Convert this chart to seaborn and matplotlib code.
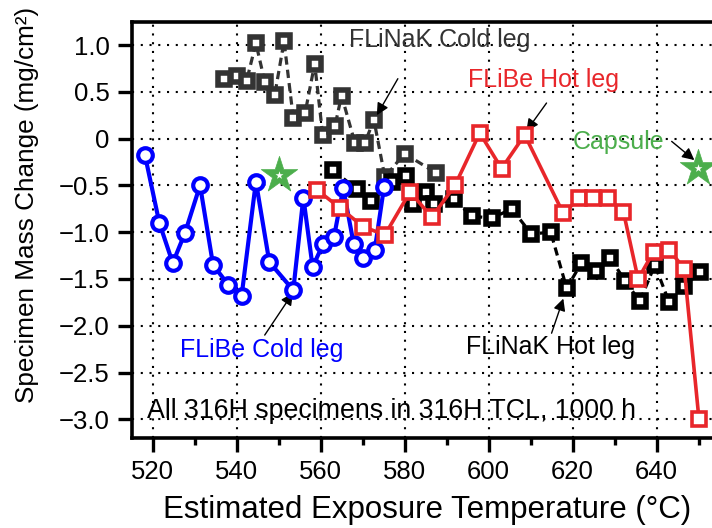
import numpy as np
import pandas as pd
import matplotlib
matplotlib.use("Agg")
import matplotlib.pyplot as plt
from matplotlib.ticker import MultipleLocator, FixedLocator, FixedFormatter
import seaborn as sns

# ---------------- data ----------------
flibe_cold_T = [518.2, 521.6, 524.8, 527.7, 531.3, 534.4, 538.0, 541.2, 544.6, 547.8,
                553.5, 555.9, 558.1, 560.6, 563.2, 565.4, 567.9, 570.1, 572.9, 575.1]
flibe_cold_M = [-0.18, -0.90, -1.33, -1.01, -0.50, -1.35, -1.56, -1.68, -0.46, -1.32,
                -1.62, -0.63, -1.37, -1.13, -1.05, -0.53, -1.13, -1.28, -1.19, -0.52]

flibe_hot_T = [559.2, 564.6, 570.1, 575.3, 581.3, 586.5, 592.0, 597.9, 603.1, 608.6,
               617.8, 621.5, 624.9, 628.5, 632.1, 635.6, 639.3, 643.0, 646.6, 650.1]
flibe_hot_M = [-0.55, -0.74, -0.94, -1.03, -0.57, -0.84, -0.50, 0.06, -0.32, 0.04,
               -0.80, -0.64, -0.64, -0.64, -0.78, -1.50, -1.21, -1.19, -1.39, -3.00]

flinak_cold_T = [537.0, 540.0, 542.4, 544.6, 546.7, 549.1, 551.3, 553.5, 556.3, 558.6,
                 560.5, 563.4, 565.0, 568.2, 570.5, 572.7, 575.3, 580.0, 587.6]
flinak_cold_M = [0.64, 0.67, 0.62, 1.02, 0.61, 0.47, 1.04, 0.22, 0.27, 0.80,
                 0.04, 0.13, 0.46, -0.05, -0.05, 0.20, -0.41, -0.16, -0.37]

flinak_hot_T = [563.0, 568.6, 572.1, 577.0, 580.3, 582.0, 585.2, 587.0, 591.8, 596.0,
                600.9, 605.5, 610.2, 614.8, 618.6, 622.1, 625.5, 629.0, 632.5, 636.0,
                639.6, 643.0, 646.5, 650.3]
flinak_hot_M = [-0.34, -0.54, -0.67, -0.46, -0.40, -0.70, -0.57, -0.70, -0.65, -0.83,
                -0.85, -0.75, -1.02, -1.00, -1.60, -1.33, -1.42, -1.28, -1.52, -1.74,
                -1.35, -1.75, -1.58, -1.43]

capsule_T = [550.0, 649.9]
capsule_M = [-0.39, -0.31]

x_ticks = [520, 540, 560, 580, 600, 620, 640]
y_ticks = [1.0, 0.5, 0.0, -0.5, -1.0, -1.5, -2.0, -2.5, -3.0]
y_labels = ["1.0", "0.5", "0", "\u22120.5", "\u22121.0", "\u22121.5", "\u22122.0", "\u22122.5", "\u22123.0"]

# ---------------- style ----------------
sns.set_style("ticks")
plt.rcParams['font.family'] = ['Liberation Sans', 'DejaVu Sans']

BLUE = "#0000ff"
RED = "#e8262a"
GREEN = "#4cae4c"
DGRAY = "#333333"

fig = plt.figure(figsize=(7.12, 5.28), dpi=100)
ax = fig.add_axes([132 / 712, 1 - 438 / 528, 580 / 712, 416 / 528])

# FLiNaK cold leg (dark gray, dashed)
sns.lineplot(x=flinak_cold_T, y=flinak_cold_M, sort=False, estimator=None, ax=ax,
             color=DGRAY, linewidth=2.3, linestyle=(0, (2.6, 1.6)),
             marker='s', markersize=8.5, markerfacecolor='white',
             markeredgecolor=DGRAY, markeredgewidth=4.0, zorder=3)
# FLiNaK hot leg (black, dashed)
sns.lineplot(x=flinak_hot_T, y=flinak_hot_M, sort=False, estimator=None, ax=ax,
             color='black', linewidth=2.3, linestyle=(0, (2.6, 1.6)),
             marker='s', markersize=8.5, markerfacecolor='white',
             markeredgecolor='black', markeredgewidth=4.0, zorder=3)
# FLiBe cold leg (blue circles)
sns.lineplot(x=flibe_cold_T, y=flibe_cold_M, sort=False, estimator=None, ax=ax,
             color=BLUE, linewidth=3.0,
             marker='o', markersize=10.5, markerfacecolor='white',
             markeredgecolor=BLUE, markeredgewidth=3.0, zorder=4)
# FLiBe hot leg (red squares)
sns.lineplot(x=flibe_hot_T, y=flibe_hot_M, sort=False, estimator=None, ax=ax,
             color=RED, linewidth=2.6,
             marker='s', markersize=10, markerfacecolor='white',
             markeredgecolor=RED, markeredgewidth=2.6, zorder=5)
# Capsule stars
sns.scatterplot(x=capsule_T, y=capsule_M, marker='*', s=760, color=GREEN,
                edgecolor=GREEN, linewidth=0.5, ax=ax, zorder=6)
sns.scatterplot(x=capsule_T, y=capsule_M, marker='*', s=36, color='white',
                edgecolor='white', linewidth=0, ax=ax, zorder=7)

# ---------------- axes ----------------
ax.set_xlim(515.1, 653.2)
ax.set_ylim(-3.2, 1.246)
ax.xaxis.set_major_locator(FixedLocator(x_ticks))
ax.xaxis.set_minor_locator(MultipleLocator(10))
ax.yaxis.set_major_locator(FixedLocator(y_ticks))
ax.yaxis.set_major_formatter(FixedFormatter(y_labels))

ax.grid(True, which='major', color='black', linestyle=(0, (1, 3.2)), linewidth=1.5)
ax.set_axisbelow(True)

for s in ['left', 'bottom', 'top']:
    ax.spines[s].set_linewidth(2.6)
    ax.spines[s].set_color('black')
ax.spines['right'].set_visible(False)

ax.tick_params(axis='both', which='major', direction='out', length=10, width=2.4,
               labelsize=18.5, pad=6, color='black', labelcolor='black')
ax.tick_params(axis='x', which='minor', direction='out', length=5, width=2.4, color='black')
ax.tick_params(top=False, right=False)

ax.set_xlabel("Estimated Exposure Temperature (\u00b0C)", fontsize=22.5, color='black')
ax.set_ylabel("Specimen Mass Change (mg/cm\u00b2)", fontsize=18.8, color='black')
ax.xaxis.set_label_coords(0.508, -0.138)
ax.yaxis.set_label_coords(-0.16, 0.56)

# ---------------- annotations ----------------
arrow = dict(arrowstyle='-|>', color='black', lw=1.0, mutation_scale=18, shrinkA=0, shrinkB=0)

ax.text(588.4, 1.05, "FLiNaK Cold leg", color=DGRAY, fontsize=18, ha='center', va='center')
ax.annotate('', xy=(573.4, 0.25), xytext=(578.4, 0.64), arrowprops=arrow)

ax.text(613.0, 0.63, "FLiBe Hot leg", color=RED, fontsize=18, ha='center', va='center')
ax.annotate('', xy=(609.0, 0.08), xytext=(613.8, 0.38), arrowprops=arrow)

ax.text(630.9, -0.04, "Capsule", color=GREEN, fontsize=18, ha='center', va='center')
ax.annotate('', xy=(649.0, -0.23), xytext=(643.6, -0.03), arrowprops=arrow)

ax.text(546.0, -2.26, "FLiBe Cold leg", color=BLUE, fontsize=18, ha='center', va='center')
ax.annotate('', xy=(553.4, -1.65), xytext=(546.7, -2.10), arrowprops=arrow)

ax.text(614.8, -2.23, "FLiNaK Hot leg", color='black', fontsize=18, ha='center', va='center')
ax.annotate('', xy=(617.8, -1.71), xytext=(615.0, -2.08), arrowprops=arrow)

ax.text(518.6, -2.91, "All 316H specimens in 316H TCL, 1000 h", color='black',
        fontsize=19.3, ha='left', va='center')

fig.savefig("out.png", dpi=100)
